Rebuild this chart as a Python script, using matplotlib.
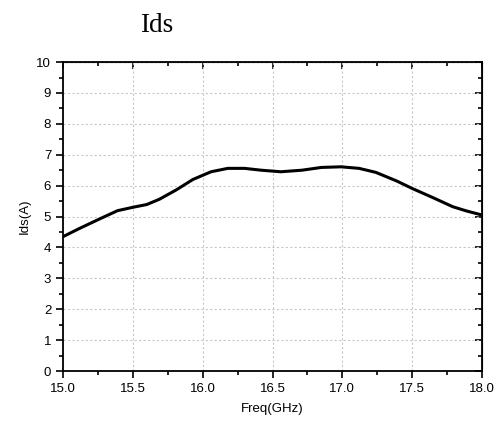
import matplotlib.pyplot as plt
from matplotlib.ticker import MultipleLocator

plt.rcParams['font.family'] = ['Liberation Sans', 'DejaVu Sans']

# courbe Ids
freq = [15.0, 15.12, 15.27, 15.39, 15.50, 15.60, 15.69, 15.81, 15.93, 16.06,
        16.18, 16.30, 16.42, 16.56, 16.71, 16.85, 16.99, 17.12, 17.24, 17.39,
        17.50, 17.65, 17.79, 17.89, 18.0]
ids = [4.35, 4.62, 4.94, 5.19, 5.30, 5.39, 5.56, 5.86, 6.20, 6.45,
       6.56, 6.56, 6.50, 6.45, 6.50, 6.59, 6.61, 6.56, 6.43, 6.15,
       5.91, 5.61, 5.32, 5.18, 5.05]

fig = plt.figure(figsize=(5, 4.28), dpi=100)
ax = fig.add_axes([0.126, 0.133, 0.838, 0.722])

ax.plot(freq, ids, color='black', lw=2.2, solid_capstyle='round',
        solid_joinstyle='round')

ax.set_xlim(15, 18)
ax.set_ylim(0, 10)
ax.xaxis.set_major_locator(MultipleLocator(0.5))
ax.xaxis.set_minor_locator(MultipleLocator(0.25))
ax.yaxis.set_major_locator(MultipleLocator(1))
ax.yaxis.set_minor_locator(MultipleLocator(0.5))
ax.xaxis.set_major_formatter(plt.FormatStrFormatter('%.1f'))
ax.grid(True, which='major', color='#c8c8c8', linestyle=(0, (2, 2)), lw=0.8)
ax.tick_params(which='major', direction='out', length=5, width=1.2, labelsize=9.5)
ax.tick_params(which='minor', direction='out', length=3, width=1.2)
for s in ax.spines.values():
    s.set_linewidth(1.3)

top = ax.secondary_xaxis('top')
top.xaxis.set_major_locator(MultipleLocator(0.5))
top.xaxis.set_minor_locator(MultipleLocator(0.25))
top.tick_params(which='both', direction='in', labeltop=False, width=1.2)
top.tick_params(which='major', length=5)
top.tick_params(which='minor', length=3)
right = ax.secondary_yaxis('right')
right.yaxis.set_major_locator(MultipleLocator(1))
right.yaxis.set_minor_locator(MultipleLocator(0.5))
right.tick_params(which='both', direction='in', labelright=False, width=1.2)
right.tick_params(which='major', length=5)
right.tick_params(which='minor', length=3)

ax.set_xlabel('Freq(GHz)', fontsize=9.5, labelpad=6)
ax.set_ylabel('Ids(A)', fontsize=9.5, labelpad=4)

fig.text(0.314, 0.925, 'Ids', family=['Liberation Serif'], fontsize=19.5,
         ha='center', va='baseline')
# texte coupé en haut de l'image d'origine
fig.text(0.64, 1.012, 'Freq(GHz)', family=['Liberation Serif'], fontsize=16,
         ha='right', va='baseline')

fig.savefig('out.png', dpi=100)
